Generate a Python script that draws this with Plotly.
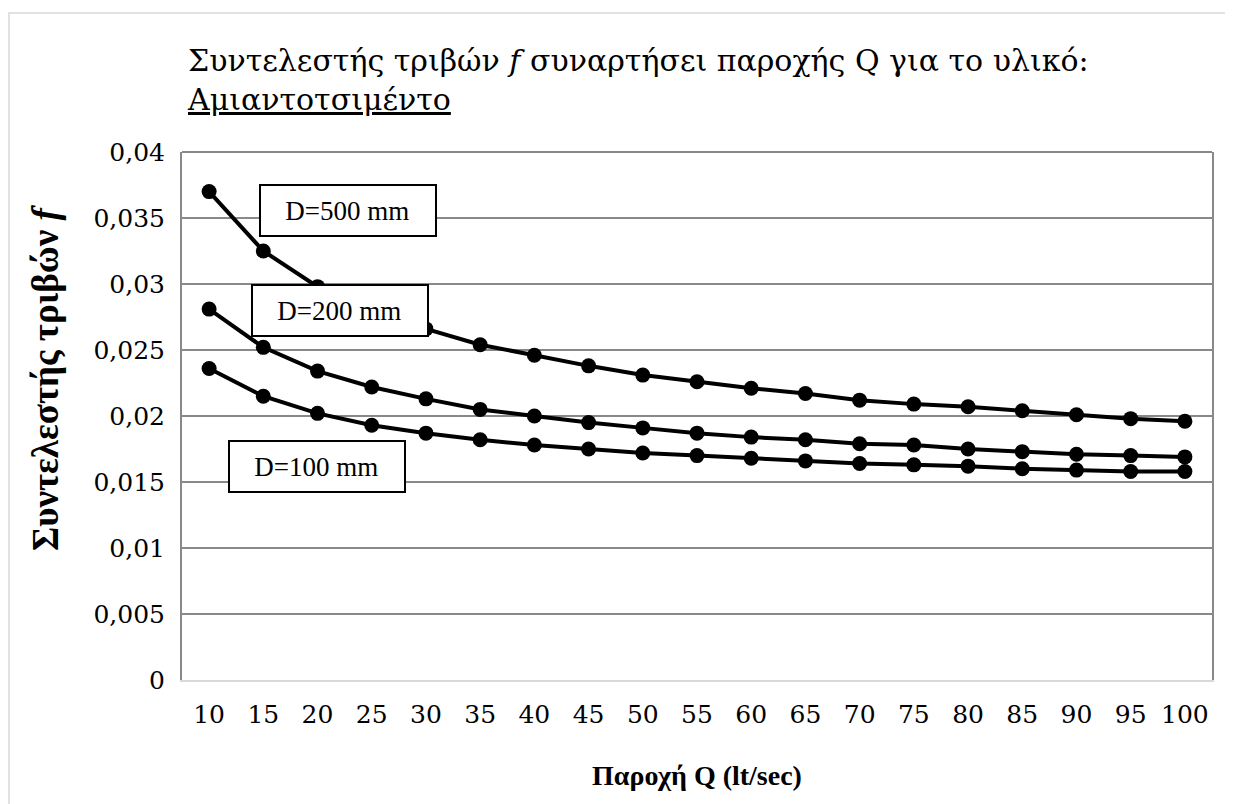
import plotly.graph_objects as go

# παροχή Q (lt/sec)
paroxi = ["10", "15", "20", "25", "30", "35", "40", "45", "50", "55",
          "60", "65", "70", "75", "80", "85", "90", "95", "100"]

# συντελεστής τριβών f ανά διάμετρο
f_d500 = [0.0370, 0.0325, 0.0298, 0.0280, 0.0266, 0.0254, 0.0246, 0.0238, 0.0231, 0.0226,
          0.0221, 0.0217, 0.0212, 0.0209, 0.0207, 0.0204, 0.0201, 0.0198, 0.0196]
f_d200 = [0.0281, 0.0252, 0.0234, 0.0222, 0.0213, 0.0205, 0.0200, 0.0195, 0.0191, 0.0187,
          0.0184, 0.0182, 0.0179, 0.0178, 0.0175, 0.0173, 0.0171, 0.0170, 0.0169]
f_d100 = [0.0236, 0.0215, 0.0202, 0.0193, 0.0187, 0.0182, 0.0178, 0.0175, 0.0172, 0.0170,
          0.0168, 0.0166, 0.0164, 0.0163, 0.0162, 0.0160, 0.0159, 0.0158, 0.0158]

seires = [("D=100 mm", f_d100), ("D=200 mm", f_d200), ("D=500 mm", f_d500)]

# η σελίδα έχει margin 8px στο body
OFF = 8
W, H = 1233 - OFF, 804 - OFF
L, R, T, B = 182 - OFF, 21, 152 - OFF, 124
pw, ph = W - L - R, H - T - B
FONT = "Liberation Serif"
FONT2 = "DejaVu Serif"   # για κανονικά γράμματα (ticks, τίτλος)


def px2x(px):
    return (px - OFF - L) / pw


def px2y(py):
    return (680 - py) / ph


fig = go.Figure()
for nom, vals in seires:
    fig.add_trace(go.Scatter(
        x=paroxi, y=vals, name=nom, mode="lines+markers",
        line=dict(color="black", width=4),
        marker=dict(color="black", size=15)))

# ετικέτες (θέση σε μονάδες κατηγορίας / f)
etiketes = [("D=500 mm", 0.92, 0.03557), ("D=200 mm", 0.77, 0.02798), ("D=100 mm", 0.34, 0.01620)]
annots = []
for txt, xc, yc in etiketes:
    annots.append(dict(
        x=xc, y=yc, xref="x", yref="y", xanchor="left", yanchor="middle",
        text="&nbsp;&nbsp;&nbsp;" + txt, showarrow=False, align="left",
        width=166, height=41, borderpad=4, borderwidth=2,
        bordercolor="black", bgcolor="white",
        font=dict(family=FONT, size=27, color="black")))

# τίτλος
annots.append(dict(
    x=px2x(185), y=px2y(41), xref="paper", yref="paper",
    text="Συντελεστής τριβών <i>f</i> συναρτήσει παροχής Q για το υλικό:<br><u>Αμιαντοτσιμέντο</u>",
    showarrow=False, xanchor="left", yanchor="top", align="left",
    font=dict(family=FONT2, size=30, color="black")))

# τίτλοι αξόνων
annots.append(dict(
    x=px2x(45), y=px2y(378), xref="paper", yref="paper",
    text="<b>Συντελεστής τριβών <i>f</i></b>", textangle=-90, showarrow=False,
    xanchor="center", yanchor="middle",
    font=dict(family=FONT, size=37, color="black")))
annots.append(dict(
    x=0.5, y=px2y(775), xref="paper", yref="paper",
    text="<b>Παροχή Q (lt/sec)</b>", showarrow=False,
    xanchor="center", yanchor="middle",
    font=dict(family=FONT, size=28, color="black")))

shapes = [
    # πλαίσιο γραφήματος
    dict(type="rect", xref="paper", yref="paper",
         x0=px2x(9), x1=px2x(1260), y0=px2y(830), y1=px2y(13),
         line=dict(color="#d9d9d9", width=1.5), layer="below"),
    dict(type="line", xref="paper", yref="paper", x0=0, x1=1, y0=1, y1=1,
         line=dict(color="#898989", width=2)),
]

fig.update_layout(
    width=W, height=H,
    margin=dict(l=L, r=R, t=T, b=B),
    paper_bgcolor="white", plot_bgcolor="white",
    separators=",.",
    showlegend=False,
    font=dict(family=FONT2, size=25, color="black"),
    xaxis=dict(type="category", range=[-0.5, 18.5], showgrid=False,
               showline=True, linecolor="#d9d9d9", linewidth=2,
               ticks="", ticklabelstandoff=11, zeroline=False,
               tickfont=dict(family=FONT2, size=25, color="black")),
    yaxis=dict(range=[0, 0.04], tick0=0, dtick=0.005,
               showgrid=True, gridcolor="#898989", gridwidth=1.5,
               showline=True, linecolor="#898989", linewidth=2, mirror=True,
               ticks="", ticklabelstandoff=10, zeroline=False,
               tickfont=dict(family=FONT2, size=25, color="black")),
    annotations=annots,
    shapes=shapes,
)

fig.write_html("out.html")
